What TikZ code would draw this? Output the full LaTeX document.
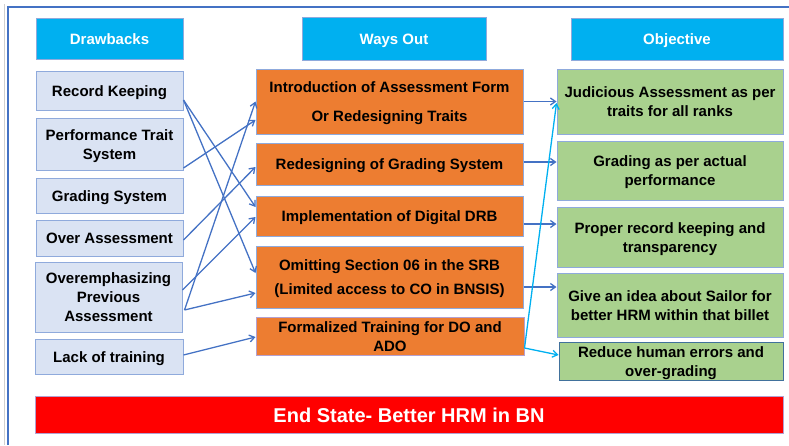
\documentclass[tikz,border=0pt]{standalone}
\usepackage{fontspec}
\setmainfont{Liberation Sans}
\usetikzlibrary{arrows.meta}
\definecolor{hdrblue}{HTML}{00B0F0}
\definecolor{lboxfill}{HTML}{DAE3F3}
\definecolor{boxline}{HTML}{8FAADC}
\definecolor{orangefill}{HTML}{ED7D31}
\definecolor{greenfill}{HTML}{A9D18E}
\definecolor{arrowblue}{HTML}{4472C4}
\definecolor{arrowcyan}{HTML}{00B0F0}
\definecolor{framegray}{HTML}{D0D0D0}
\definecolor{redpurple}{HTML}{B4A0D0}
\definecolor{darkline}{HTML}{41719C}
\newcommand{\mytopstrut}{\rule{0pt}{15pt}}
\tikzset{
  basebox/.style={rectangle, inner sep=0pt, align=center, font=\fontsize{15}{19}\selectfont\bfseries, line width=1pt, draw=boxline,
    execute at begin node={\rule{0pt}{1.0em}},
    execute at end node={\rule[-.212em]{0pt}{.212em}}},
  hdrbox/.style={basebox, fill=hdrblue, text=white},
  lbox/.style={basebox, fill=lboxfill, text=black},
  obox/.style={basebox, fill=orangefill, text=black},
  gbox/.style={basebox, fill=greenfill, text=black},
  conn/.style={draw=arrowblue, line width=1.3pt, -{Straight Barb[length=5pt,width=7pt]}},
  cconn/.style={draw=arrowcyan, line width=1.3pt, -{Straight Barb[length=5pt,width=7pt]}},
}
\begin{document}
\begin{tikzpicture}[x=1pt,y=-1pt]
\useasboundingbox (0,0) rectangle (789,445);
% frame
\draw[framegray, line width=0.8pt] (4,4) -- (4,445);
\draw[arrowblue, line width=1.5pt] (8,445) -- (8,7) -- (789,7);
% headers
\node[hdrbox, minimum width=147pt, minimum height=41pt] (dh) at (109.5,38.5) {Drawbacks};
\node[hdrbox, minimum width=184pt, minimum height=43pt] (wo) at (394,38.5) {Ways Out};
\node[hdrbox, minimum width=212pt, minimum height=42pt] (ob) at (677,39) {Objective};
% left column
\node[lbox, minimum width=147pt, minimum height=39pt] (rk) at (109.5,90.5) {Record Keeping};
\node[lbox, minimum width=147pt, minimum height=52pt] (pt) at (109.5,144) {\mytopstrut Performance Trait\\System};
\node[lbox, minimum width=147pt, minimum height=35pt] (gs) at (109.5,195.5) {Grading System};
\node[lbox, minimum width=147pt, minimum height=36pt] (oa) at (109.5,238) {Over Assessment};
\node[lbox, minimum width=147pt, minimum height=70pt] (oe) at (108.5,297) {\mytopstrut Overemphasizing\\Previous\\Assessment};
\node[lbox, minimum width=148pt, minimum height=35pt] (lt) at (109,356.5) {Lack of training};
% middle column
\node[obox, minimum width=267pt, minimum height=65pt] (io) at (389.5,101.5) {\mytopstrut Introduction of Assessment Form\\[10pt]Or Redesigning Traits};
\node[obox, minimum width=267pt, minimum height=42pt] (rg) at (389.5,164) {Redesigning of Grading System};
\node[obox, minimum width=267pt, minimum height=40pt] (dd) at (389.5,216) {Implementation of Digital DRB};
\node[obox, minimum width=267pt, minimum height=62pt] (os) at (389.5,277) {\mytopstrut Omitting Section 06 in the SRB\\[5pt](Limited access to CO in BNSIS)};
\node[obox, draw=redpurple, minimum width=268pt, minimum height=38pt] (ft) at (390,336) {\mytopstrut Formalized Training for DO and\\ADO};
% right column
\node[gbox, minimum width=226pt, minimum height=65pt] (ja) at (670,101.5) {\mytopstrut Judicious Assessment as per\\traits for all ranks};
\node[gbox, minimum width=226pt, minimum height=59pt] (gp) at (670,170.5) {\mytopstrut Grading as per actual\\performance};
\node[gbox, minimum width=226pt, minimum height=60pt] (pr) at (670,237) {\mytopstrut Proper record keeping and\\transparency};
\node[gbox, minimum width=226pt, minimum height=64pt] (gi) at (670,305) {\mytopstrut Give an idea about Sailor for\\better HRM within that billet};
\node[gbox, draw=darkline, minimum width=224pt, minimum height=38pt] (rh) at (671,361) {\mytopstrut Reduce human errors and\\over-grading};
% end state
\node[basebox, fill=red, draw=redpurple, text=white, font=\fontsize{20}{24}\selectfont\bfseries, minimum width=748pt, minimum height=37pt] (es) at (409,414.5) {End State- Better HRM in BN};
% left -> middle connectors
\draw[conn] ([yshift=-9.5pt]rk.east) -- ([yshift=9pt]dd.west);
\draw[conn] ([yshift=-9.5pt]rk.east) -- ([yshift=4pt]os.west);
\draw[conn] ([yshift=-24pt]pt.east) -- ([yshift=-18.5pt]io.west);
\draw[conn] ([yshift=-2pt]oa.east) -- ([yshift=-3pt]rg.west);
\draw[conn] ([yshift=7pt]oe.east) -- ([yshift=-1pt]dd.west);
\draw[conn] ([xshift=2pt,yshift=-13pt]oe.east) -- ([yshift=0pt]io.west);
\draw[conn] ([xshift=2pt,yshift=-13pt]oe.east) -- ([yshift=-16pt]os.west);
\draw[conn] ([yshift=1.5pt]lt.east) -- ([yshift=-1pt]ft.west);
% middle -> right connectors
\draw[conn] (io.east) -- (ja.west);
\draw[conn] ([yshift=2pt]rg.east) -- ([yshift=8.5pt]gp.west);
\draw[conn] ([yshift=-8pt]dd.east) -- ([yshift=13pt]pr.west);
\draw[conn] ([yshift=-10pt]os.east) -- ([yshift=18pt]gi.west);
\draw[cconn] ([yshift=-12pt]ft.east) -- ([yshift=-1.5pt]ja.west);
\draw[cconn] ([yshift=-12pt]ft.east) -- ([yshift=6pt]rh.west);
\end{tikzpicture}
\end{document}
